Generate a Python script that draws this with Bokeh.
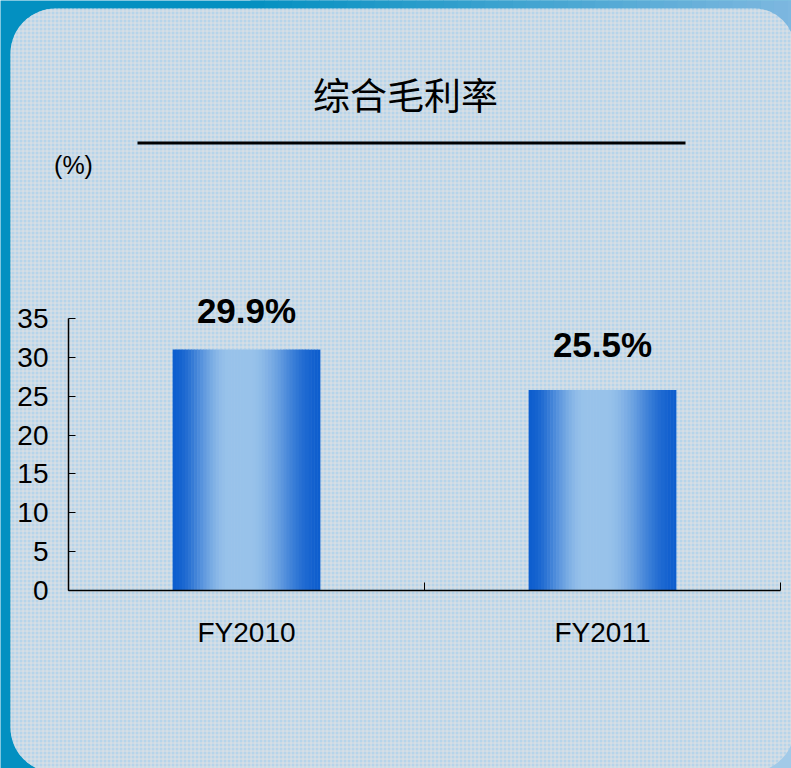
import numpy as np
from bokeh.plotting import figure
from bokeh.models import Range1d, FixedTicker, BoxAnnotation, Label, ColumnDataSource, LinearAxis
from bokeh.embed import file_html
from bokeh.resources import INLINE
from bokeh.core.properties import value

# ---- data ----
categories = ["FY2010", "FY2011"]
bar_heights = [31.0, 25.8]          # bar tops as drawn against the axis
label_values = [29.9, 25.5]         # printed values
label_texts = ["29.9%", "25.5%"]
y_ticks = [0, 5, 10, 15, 20, 25, 30, 35]
title_text = "综合毛利率"
unit_text = "(%)"

# ---- layout (page pixels) ----
W, H = 791, 768
Y_MAX = 35
AX_LEFT, AX_RIGHT = 68, 780      # x-axis extent on the page
AX_BOTTOM, AX_TOP = 590, 318     # y-axis extent on the page
px_per_x = (AX_RIGHT - AX_LEFT) / len(categories)
px_per_y = (AX_BOTTOM - AX_TOP) / Y_MAX


def dx(page_x):
    return (page_x - AX_LEFT) / px_per_x


def dy(page_y):
    return (AX_BOTTOM - page_y) / px_per_y


p = figure(width=W, height=H,
           x_range=Range1d(dx(0), dx(W)), y_range=Range1d(dy(H), dy(0)),
           output_backend="svg", toolbar_location=None,
           x_axis_location=None, y_axis_location=None,
           min_border=0, min_border_left=0, min_border_right=0,
           min_border_top=0, min_border_bottom=0)
p.background_fill_color = "#0390c1"
p.border_fill_color = "#0390c1"
p.outline_line_color = None
p.xgrid.visible = False
p.ygrid.visible = False

# ---- backdrop: top band gradient, light corner, rounded textured panel ----
band_from = np.array([3, 144, 193])
band_to = np.array([128, 184, 224])
n_band = 40
band_x = np.linspace(250, W + 10, n_band + 1)
for k in range(n_band):
    t = (k + 0.5) / n_band
    col = band_from + (band_to - band_from) * t
    p.add_layout(BoxAnnotation(left=dx(band_x[k]), right=dx(band_x[k + 1] + 0.6),
                               top=dy(-30), bottom=dy(80),
                               fill_color="#%02x%02x%02x" % tuple(int(round(v)) for v in col),
                               fill_alpha=1, line_color=None, level="underlay"))
p.add_layout(BoxAnnotation(left=dx(650), right=dx(830), top=dy(680), bottom=dy(800),
                           fill_color="#a2cae8", fill_alpha=1, line_color=None, level="underlay"))
p.add_layout(BoxAnnotation(left=dx(10), right=dx(794), top=dy(8), bottom=dy(772),
                           border_radius=(45, 40, 45, 45),
                           fill_color="#b6d4ea", fill_alpha=1, line_color=None,
                           hatch_pattern="+", hatch_color="#dfe1e3", hatch_alpha=1,
                           hatch_scale=4, hatch_weight=1, level="underlay"))

# ---- gradient bars (strips) ----
centers = [i + 0.5 for i in range(len(categories))]
bar_w = 0.415
N = 48
dark = np.array([14, 94, 206])
light = np.array([152, 194, 234])


def smooth(u):
    u = min(max(u, 0.0), 1.0)
    return u * u * (3 - 2 * u)


lefts, rights, tops, colors = [], [], [], []
edges = np.linspace(-0.5, 0.5, N + 1) * bar_w
for c, h in zip(centers, bar_heights):
    for j in range(N):
        t = (j + 0.5) / N
        if t < 0.38:
            s = smooth(t / 0.38)
        elif t < 0.52:
            s = 1.0
        else:
            s = smooth((1 - t) / 0.48)
        col = dark + (light - dark) * s
        lefts.append(c + edges[j])
        rights.append(c + edges[j + 1] + (0.0015 if j < N - 1 else 0))
        tops.append(h)
        colors.append("#%02x%02x%02x" % tuple(int(round(v)) for v in col))

src = ColumnDataSource(dict(left=lefts, right=rights, top=tops, bottom=[0] * len(tops), color=colors))
p.quad(left="left", right="right", top="top", bottom="bottom", fill_color="color",
       line_color=None, source=src)

# ---- value labels ----
p.text(x=centers, y=label_values, text=label_texts, text_font=value("Liberation Sans"),
       text_font_style="bold", text_font_size="35px", text_color="black",
       text_align="center", text_baseline="alphabetic", y_offset=-48)

# ---- axes (fixed inside the frame) ----
xa = LinearAxis(fixed_location=0, bounds=(0, len(categories)))
xa.ticker = FixedTicker(ticks=centers, minor_ticks=list(range(len(categories) + 1)))
xa.major_label_overrides = {c: cat for c, cat in zip(centers, categories)}
xa.major_tick_in = 0
xa.major_tick_out = 0
xa.minor_tick_in = 8
xa.minor_tick_out = 0
xa.minor_tick_line_color = "black"
xa.axis_line_color = "black"
xa.axis_line_width = 1.5
xa.major_label_text_font = "Liberation Sans"
xa.major_label_text_font_size = "28px"
xa.major_label_text_color = "black"
xa.major_label_standoff = 26
p.add_layout(xa, "below")

ya = LinearAxis(fixed_location=0, bounds=(0, Y_MAX))
ya.ticker = FixedTicker(ticks=y_ticks)
ya.major_tick_in = 7
ya.major_tick_out = 0
ya.minor_tick_in = 0
ya.minor_tick_out = 0
ya.major_tick_line_color = "black"
ya.axis_line_color = "black"
ya.axis_line_width = 1.5
ya.major_label_text_font = "Liberation Sans"
ya.major_label_text_font_size = "28px"
ya.major_label_text_color = "black"
ya.major_label_standoff = 20
p.add_layout(ya, "left")

# ---- title, rule, unit ----
p.add_layout(Label(x=dx(405), y=dy(93), text=title_text, text_font="Noto Sans CJK SC",
                   text_font_size="37px", text_color="black", text_align="center",
                   text_baseline="middle"))
p.add_layout(BoxAnnotation(left=dx(137), right=dx(685), top=dy(141), bottom=dy(144),
                           fill_color="black", fill_alpha=1, line_color=None))
p.add_layout(Label(x=dx(73), y=dy(164), text=unit_text, text_font="Liberation Sans",
                   text_font_size="25px", text_color="black", text_align="center",
                   text_baseline="middle"))

open("out.html", "w").write(file_html(p, INLINE, title="综合毛利率"))
